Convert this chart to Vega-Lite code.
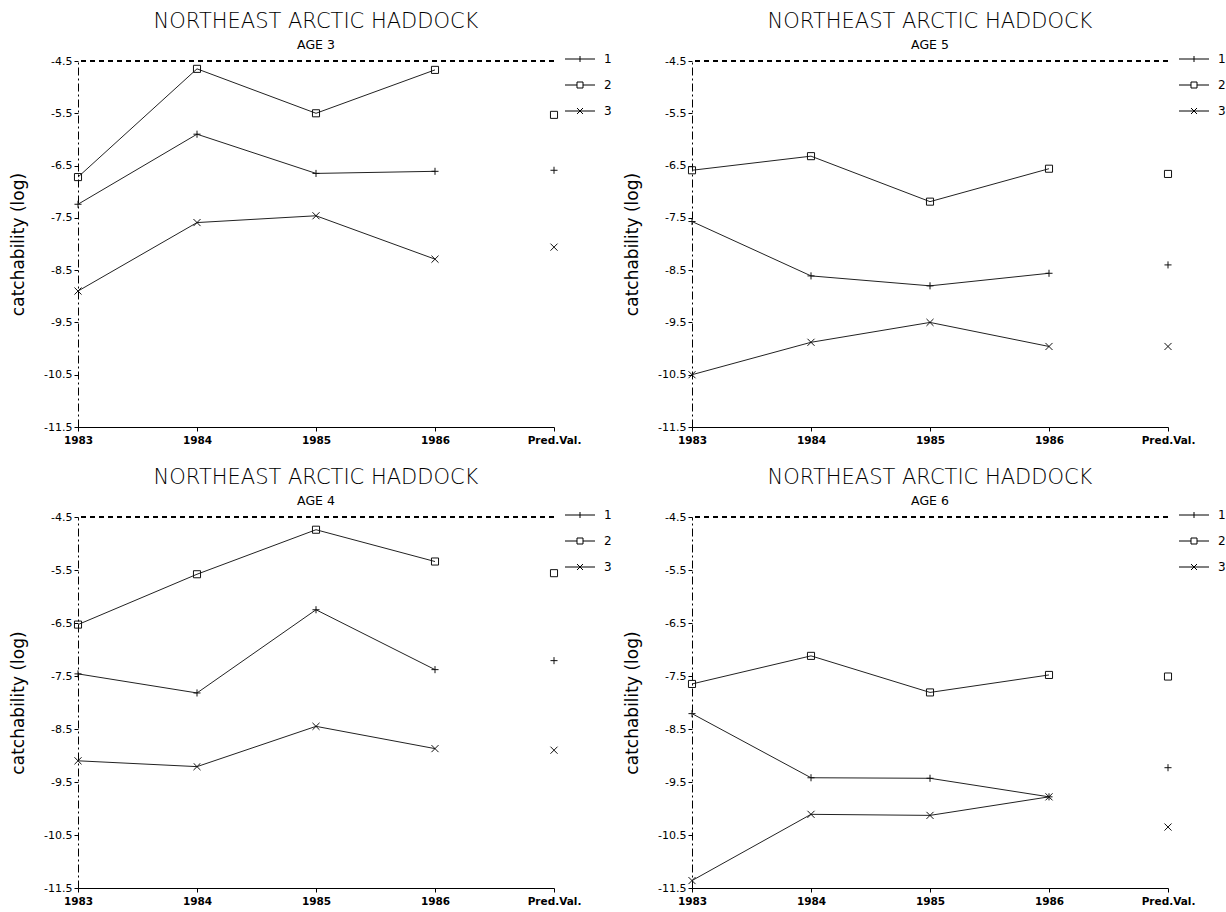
{
  "$schema": "https://vega.github.io/schema/vega-lite/v6.json",
  "padding": {"left": 9, "top": 10, "right": 20, "bottom": 0},
  "background": "white",
  "datasets": {
    "q": [
      {"age": 3, "series": "1", "year": "1983", "value": -7.24},
      {"age": 3, "series": "1", "year": "1984", "value": -5.90},
      {"age": 3, "series": "1", "year": "1985", "value": -6.65},
      {"age": 3, "series": "1", "year": "1986", "value": -6.61},
      {"age": 3, "series": "1", "year": "Pred.Val.", "value": -6.59},
      {"age": 3, "series": "2", "year": "1983", "value": -6.72},
      {"age": 3, "series": "2", "year": "1984", "value": -4.65},
      {"age": 3, "series": "2", "year": "1985", "value": -5.50},
      {"age": 3, "series": "2", "year": "1986", "value": -4.67},
      {"age": 3, "series": "2", "year": "Pred.Val.", "value": -5.53},
      {"age": 3, "series": "3", "year": "1983", "value": -8.90},
      {"age": 3, "series": "3", "year": "1984", "value": -7.59},
      {"age": 3, "series": "3", "year": "1985", "value": -7.46},
      {"age": 3, "series": "3", "year": "1986", "value": -8.29},
      {"age": 3, "series": "3", "year": "Pred.Val.", "value": -8.06},
      {"age": 5, "series": "1", "year": "1983", "value": -7.57},
      {"age": 5, "series": "1", "year": "1984", "value": -8.61},
      {"age": 5, "series": "1", "year": "1985", "value": -8.80},
      {"age": 5, "series": "1", "year": "1986", "value": -8.56},
      {"age": 5, "series": "1", "year": "Pred.Val.", "value": -8.40},
      {"age": 5, "series": "2", "year": "1983", "value": -6.59},
      {"age": 5, "series": "2", "year": "1984", "value": -6.32},
      {"age": 5, "series": "2", "year": "1985", "value": -7.19},
      {"age": 5, "series": "2", "year": "1986", "value": -6.56},
      {"age": 5, "series": "2", "year": "Pred.Val.", "value": -6.66},
      {"age": 5, "series": "3", "year": "1983", "value": -10.50},
      {"age": 5, "series": "3", "year": "1984", "value": -9.88},
      {"age": 5, "series": "3", "year": "1985", "value": -9.50},
      {"age": 5, "series": "3", "year": "1986", "value": -9.96},
      {"age": 5, "series": "3", "year": "Pred.Val.", "value": -9.96},
      {"age": 4, "series": "1", "year": "1983", "value": -7.46},
      {"age": 4, "series": "1", "year": "1984", "value": -7.82},
      {"age": 4, "series": "1", "year": "1985", "value": -6.25},
      {"age": 4, "series": "1", "year": "1986", "value": -7.38},
      {"age": 4, "series": "1", "year": "Pred.Val.", "value": -7.21},
      {"age": 4, "series": "2", "year": "1983", "value": -6.53},
      {"age": 4, "series": "2", "year": "1984", "value": -5.58},
      {"age": 4, "series": "2", "year": "1985", "value": -4.74},
      {"age": 4, "series": "2", "year": "1986", "value": -5.34},
      {"age": 4, "series": "2", "year": "Pred.Val.", "value": -5.56},
      {"age": 4, "series": "3", "year": "1983", "value": -9.10},
      {"age": 4, "series": "3", "year": "1984", "value": -9.21},
      {"age": 4, "series": "3", "year": "1985", "value": -8.45},
      {"age": 4, "series": "3", "year": "1986", "value": -8.87},
      {"age": 4, "series": "3", "year": "Pred.Val.", "value": -8.90},
      {"age": 6, "series": "1", "year": "1983", "value": -8.21},
      {"age": 6, "series": "1", "year": "1984", "value": -9.42},
      {"age": 6, "series": "1", "year": "1985", "value": -9.43},
      {"age": 6, "series": "1", "year": "1986", "value": -9.78},
      {"age": 6, "series": "1", "year": "Pred.Val.", "value": -9.23},
      {"age": 6, "series": "2", "year": "1983", "value": -7.65},
      {"age": 6, "series": "2", "year": "1984", "value": -7.12},
      {"age": 6, "series": "2", "year": "1985", "value": -7.81},
      {"age": 6, "series": "2", "year": "1986", "value": -7.48},
      {"age": 6, "series": "2", "year": "Pred.Val.", "value": -7.51},
      {"age": 6, "series": "3", "year": "1983", "value": -11.36},
      {"age": 6, "series": "3", "year": "1984", "value": -10.11},
      {"age": 6, "series": "3", "year": "1985", "value": -10.13},
      {"age": 6, "series": "3", "year": "1986", "value": -9.78},
      {"age": 6, "series": "3", "year": "Pred.Val.", "value": -10.35}
    ]
  },
  "vconcat": [
    {
      "hconcat": [
        {
          "title": {"text": "NORTHEAST ARCTIC HADDOCK", "subtitle": "AGE 3"},
          "width": 476, "height": 366,
          "data": {"name": "q"},
          "transform": [{"filter": "datum.age == 3"}],
          "layer": [
            {"mark": {"type": "rule", "strokeDash": [5, 4], "strokeWidth": 1, "color": "black"}, "encoding": {"y": {"datum": -4.5, "type": "quantitative", "scale": {"domain": [-11.5, -4.5], "nice": false, "zero": false}}}},
            {"transform": [{"filter": "datum.year != 'Pred.Val.'"}], "mark": {"type": "line", "color": "#222", "strokeWidth": 1},
             "encoding": {
               "x": {"field": "year", "type": "ordinal", "scale": {"type": "point", "padding": 0, "domain": ["1983", "1984", "1985", "1986", "Pred.Val."]}},
               "y": {"field": "value", "type": "quantitative", "scale": {"domain": [-11.5, -4.5], "nice": false, "zero": false}, "title": "catchability (log)", "axis": {"values": [-4.5, -5.5, -6.5, -7.5, -8.5, -9.5, -10.5, -11.5], "labelExpr": "'' + datum.value"}},
               "detail": {"field": "series"}}},
            {"mark": {"type": "point", "filled": false, "color": "#111", "strokeWidth": 1, "size": 50, "opacity": 1},
             "encoding": {
               "x": {"field": "year", "type": "ordinal"},
               "y": {"field": "value", "type": "quantitative"},
               "shape": {"field": "series", "type": "nominal", "legend": null, "scale": {"domain": ["1", "2", "3"], "range": ["M-1,0H1M0,-1V1", "M-1,-1H1V1H-1Z", "M-1,-1L1,1M-1,1L1,-1"]}}}},
            {"mark": {"type": "point", "filled": false, "color": "#111", "strokeWidth": 1, "opacity": 0},
             "encoding": {
               "x": {"field": "year", "type": "ordinal"},
               "y": {"field": "value", "type": "quantitative"},
               "shape": {"field": "series", "type": "nominal", "scale": {"domain": ["1", "2", "3"], "range": ["M-5,0H5M0,-1V1", "M-5,0H-1M1,0H5M-1,-1H1V1H-1Z", "M-5,0H5M-1,-1L1,1M-1,1L1,-1"]}}}}
          ],
          "resolve": {"scale": {"shape": "independent"}, "legend": {"shape": "independent"}}
        },
        {
          "title": {"text": "NORTHEAST ARCTIC HADDOCK", "subtitle": "AGE 5"},
          "width": 476, "height": 366,
          "data": {"name": "q"},
          "transform": [{"filter": "datum.age == 5"}],
          "layer": [
            {"mark": {"type": "rule", "strokeDash": [5, 4], "strokeWidth": 1, "color": "black"}, "encoding": {"y": {"datum": -4.5, "type": "quantitative", "scale": {"domain": [-11.5, -4.5], "nice": false, "zero": false}}}},
            {"transform": [{"filter": "datum.year != 'Pred.Val.'"}], "mark": {"type": "line", "color": "#222", "strokeWidth": 1},
             "encoding": {
               "x": {"field": "year", "type": "ordinal", "scale": {"type": "point", "padding": 0, "domain": ["1983", "1984", "1985", "1986", "Pred.Val."]}},
               "y": {"field": "value", "type": "quantitative", "scale": {"domain": [-11.5, -4.5], "nice": false, "zero": false}, "title": "catchability (log)", "axis": {"values": [-4.5, -5.5, -6.5, -7.5, -8.5, -9.5, -10.5, -11.5], "labelExpr": "'' + datum.value"}},
               "detail": {"field": "series"}}},
            {"mark": {"type": "point", "filled": false, "color": "#111", "strokeWidth": 1, "size": 50, "opacity": 1},
             "encoding": {
               "x": {"field": "year", "type": "ordinal"},
               "y": {"field": "value", "type": "quantitative"},
               "shape": {"field": "series", "type": "nominal", "legend": null, "scale": {"domain": ["1", "2", "3"], "range": ["M-1,0H1M0,-1V1", "M-1,-1H1V1H-1Z", "M-1,-1L1,1M-1,1L1,-1"]}}}},
            {"mark": {"type": "point", "filled": false, "color": "#111", "strokeWidth": 1, "opacity": 0},
             "encoding": {
               "x": {"field": "year", "type": "ordinal"},
               "y": {"field": "value", "type": "quantitative"},
               "shape": {"field": "series", "type": "nominal", "scale": {"domain": ["1", "2", "3"], "range": ["M-5,0H5M0,-1V1", "M-5,0H-1M1,0H5M-1,-1H1V1H-1Z", "M-5,0H5M-1,-1L1,1M-1,1L1,-1"]}}}}
          ],
          "resolve": {"scale": {"shape": "independent"}, "legend": {"shape": "independent"}}
        }
      ],
      "spacing": 19,
      "resolve": {"scale": {"shape": "independent", "x": "independent", "y": "independent"}, "legend": {"shape": "independent"}}
    },
    {
      "hconcat": [
        {
          "title": {"text": "NORTHEAST ARCTIC HADDOCK", "subtitle": "AGE 4"},
          "width": 476, "height": 371,
          "data": {"name": "q"},
          "transform": [{"filter": "datum.age == 4"}],
          "layer": [
            {"mark": {"type": "rule", "strokeDash": [5, 4], "strokeWidth": 1, "color": "black"}, "encoding": {"y": {"datum": -4.5, "type": "quantitative", "scale": {"domain": [-11.5, -4.5], "nice": false, "zero": false}}}},
            {"transform": [{"filter": "datum.year != 'Pred.Val.'"}], "mark": {"type": "line", "color": "#222", "strokeWidth": 1},
             "encoding": {
               "x": {"field": "year", "type": "ordinal", "scale": {"type": "point", "padding": 0, "domain": ["1983", "1984", "1985", "1986", "Pred.Val."]}},
               "y": {"field": "value", "type": "quantitative", "scale": {"domain": [-11.5, -4.5], "nice": false, "zero": false}, "title": "catchability (log)", "axis": {"values": [-4.5, -5.5, -6.5, -7.5, -8.5, -9.5, -10.5, -11.5], "labelExpr": "'' + datum.value"}},
               "detail": {"field": "series"}}},
            {"mark": {"type": "point", "filled": false, "color": "#111", "strokeWidth": 1, "size": 50, "opacity": 1},
             "encoding": {
               "x": {"field": "year", "type": "ordinal"},
               "y": {"field": "value", "type": "quantitative"},
               "shape": {"field": "series", "type": "nominal", "legend": null, "scale": {"domain": ["1", "2", "3"], "range": ["M-1,0H1M0,-1V1", "M-1,-1H1V1H-1Z", "M-1,-1L1,1M-1,1L1,-1"]}}}},
            {"mark": {"type": "point", "filled": false, "color": "#111", "strokeWidth": 1, "opacity": 0},
             "encoding": {
               "x": {"field": "year", "type": "ordinal"},
               "y": {"field": "value", "type": "quantitative"},
               "shape": {"field": "series", "type": "nominal", "scale": {"domain": ["1", "2", "3"], "range": ["M-5,0H5M0,-1V1", "M-5,0H-1M1,0H5M-1,-1H1V1H-1Z", "M-5,0H5M-1,-1L1,1M-1,1L1,-1"]}}}}
          ],
          "resolve": {"scale": {"shape": "independent"}, "legend": {"shape": "independent"}}
        },
        {
          "title": {"text": "NORTHEAST ARCTIC HADDOCK", "subtitle": "AGE 6"},
          "width": 476, "height": 371,
          "data": {"name": "q"},
          "transform": [{"filter": "datum.age == 6"}],
          "layer": [
            {"mark": {"type": "rule", "strokeDash": [5, 4], "strokeWidth": 1, "color": "black"}, "encoding": {"y": {"datum": -4.5, "type": "quantitative", "scale": {"domain": [-11.5, -4.5], "nice": false, "zero": false}}}},
            {"transform": [{"filter": "datum.year != 'Pred.Val.'"}], "mark": {"type": "line", "color": "#222", "strokeWidth": 1},
             "encoding": {
               "x": {"field": "year", "type": "ordinal", "scale": {"type": "point", "padding": 0, "domain": ["1983", "1984", "1985", "1986", "Pred.Val."]}},
               "y": {"field": "value", "type": "quantitative", "scale": {"domain": [-11.5, -4.5], "nice": false, "zero": false}, "title": "catchability (log)", "axis": {"values": [-4.5, -5.5, -6.5, -7.5, -8.5, -9.5, -10.5, -11.5], "labelExpr": "'' + datum.value"}},
               "detail": {"field": "series"}}},
            {"mark": {"type": "point", "filled": false, "color": "#111", "strokeWidth": 1, "size": 50, "opacity": 1},
             "encoding": {
               "x": {"field": "year", "type": "ordinal"},
               "y": {"field": "value", "type": "quantitative"},
               "shape": {"field": "series", "type": "nominal", "legend": null, "scale": {"domain": ["1", "2", "3"], "range": ["M-1,0H1M0,-1V1", "M-1,-1H1V1H-1Z", "M-1,-1L1,1M-1,1L1,-1"]}}}},
            {"mark": {"type": "point", "filled": false, "color": "#111", "strokeWidth": 1, "opacity": 0},
             "encoding": {
               "x": {"field": "year", "type": "ordinal"},
               "y": {"field": "value", "type": "quantitative"},
               "shape": {"field": "series", "type": "nominal", "scale": {"domain": ["1", "2", "3"], "range": ["M-5,0H5M0,-1V1", "M-5,0H-1M1,0H5M-1,-1H1V1H-1Z", "M-5,0H5M-1,-1L1,1M-1,1L1,-1"]}}}}
          ],
          "resolve": {"scale": {"shape": "independent"}, "legend": {"shape": "independent"}}
        }
      ],
      "spacing": 19,
      "resolve": {"scale": {"shape": "independent", "x": "independent", "y": "independent"}, "legend": {"shape": "independent"}}
    }
  ],
  "spacing": 20,
  "resolve": {"scale": {"shape": "independent", "x": "independent", "y": "independent"}, "legend": {"shape": "independent"}},
  "config": {
    "view": {"stroke": null},
    "font": "DejaVu Sans",
    "title": {"fontSize": 21, "fontWeight": 200, "font": "DejaVu Sans", "color": "black", "subtitleFont": "DejaVu Sans", "subtitleFontSize": 12.5, "subtitleFontWeight": "normal", "subtitleColor": "black", "subtitlePadding": 7, "anchor": "middle", "offset": 4},
    "axis": {"labelColor": "black", "tickColor": "black", "domainColor": "black", "titleColor": "black", "grid": false, "labelFont": "DejaVu Sans", "titleFont": "DejaVu Sans"},
    "axisX": {"labelFontSize": 10.5, "labelFontWeight": "bold", "labelAngle": 0, "tickSize": 4, "labelPadding": 4, "title": null},
    "axisY": {"labelFontSize": 11, "titleFontSize": 17, "titleFontWeight": "normal", "tickSize": 4, "labelPadding": 2, "titlePadding": 16, "domainDash": [8, 3, 2, 3]},
    "legend": {
      "title": null,
      "orient": "right",
      "offset": 28,
      "symbolSize": 36,
      "symbolOpacity": 1,
      "symbolStrokeColor": "black",
      "symbolFillColor": "transparent",
      "symbolStrokeWidth": 1,
      "labelOffset": 18,
      "labelFontSize": 12,
      "labelColor": "black",
      "rowPadding": 14,
      "padding": -8
    }
  }
}
